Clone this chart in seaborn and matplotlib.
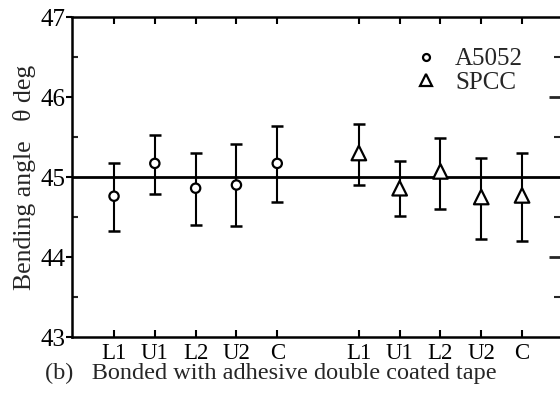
import matplotlib
matplotlib.use("Agg")
import matplotlib.pyplot as plt
import seaborn as sns
import pandas as pd
import numpy as np
from matplotlib.ticker import MultipleLocator, FixedLocator
from matplotlib.lines import Line2D

sns.set_theme(style="white")
plt.rcParams['font.family'] = ['Liberation Serif', 'DejaVu Serif']

positions = ['L1', 'U1', 'L2', 'U2', 'C']
a5052_mean = [44.76, 45.17, 44.86, 44.90, 45.17]
a5052_upper = [45.17, 45.53, 45.30, 45.41, 45.64]
a5052_lower = [44.33, 44.79, 44.40, 44.39, 44.69]
spcc_mean = [45.30, 44.86, 45.07, 44.75, 44.77]
spcc_upper = [45.66, 45.20, 45.49, 45.24, 45.30]
spcc_lower = [44.90, 44.51, 44.60, 44.22, 44.20]
a5052_x = [1, 2, 3, 4, 5]
spcc_x = [7, 8, 9, 10, 11]
tick_labels = positions + positions

df = pd.DataFrame({
    'x': a5052_x + spcc_x,
    'angle': a5052_mean + spcc_mean,
    'upper': a5052_upper + spcc_upper,
    'lower': a5052_lower + spcc_lower,
    'material': ['A5052'] * 5 + ['SPCC'] * 5,
})

fig = plt.figure(figsize=(5.6, 4.05), dpi=100)
ax = fig.add_axes([72 / 560, 68 / 405, 1 - 72 / 560, (337 - 17) / 405])

ax.axhline(45, color='black', lw=2.0, zorder=1)

for mat, sub in df.groupby('material'):
    yerr = np.vstack([sub['angle'] - sub['lower'], sub['upper'] - sub['angle']])
    ax.errorbar(sub['x'], sub['angle'], yerr=yerr, fmt='none', ecolor='black',
                elinewidth=1.5, capsize=4.5, capthick=1.8, zorder=2)

sns.scatterplot(data=df, x='x', y='angle', style='material',
                markers={'A5052': 'o', 'SPCC': '^'},
                color='white', edgecolor='black',
                linewidth=1.6, zorder=3, ax=ax, legend=False)
ax.collections[-1].set_sizes([45] * 5 + [110] * 5)

handles = [
    Line2D([], [], marker='o', ls='none', markersize=5, markerfacecolor='white',
           markeredgecolor='black', markeredgewidth=1.6, label='A5052'),
    Line2D([], [], marker='^', ls='none', markersize=8, markerfacecolor='white',
           markeredgecolor='black', markeredgewidth=1.6, label='SPCC'),
]
ax.legend(handles=handles, loc='upper left', bbox_to_anchor=(0.675, 0.935),
          frameon=False, fontsize=18, handletextpad=0.55, labelspacing=0.05,
          borderaxespad=0, handlelength=1.2)

ax.set_xlim(-0.03, 11.93)
ax.set_ylim(43, 47)
ax.set_xticks(a5052_x + spcc_x)
ax.set_xticklabels(tick_labels, fontsize=16.5)
ax.set_yticks([43, 44, 45, 46, 47])
ax.set_yticklabels(['43', '44', '45', '46', '47'], fontsize=18)
ax.yaxis.set_minor_locator(MultipleLocator(0.5))

for s in ['left', 'bottom', 'top']:
    ax.spines[s].set_color('black')
    ax.spines[s].set_linewidth(1.8)
ax.spines['right'].set_visible(False)

ax.tick_params(axis='x', which='major', direction='in', length=5, width=1.5,
               top=True, bottom=True, colors='black', pad=4)
ax.tick_params(axis='y', which='major', direction='out', length=4, width=1.5,
               left=True, right=False, colors='black', pad=1)
ax.tick_params(axis='y', which='minor', direction='in', length=4, width=1.5,
               left=True, right=False)
ax.tick_params(axis='x', which='minor', bottom=False, top=False)

sec = ax.secondary_yaxis('right')
sec.spines['right'].set_visible(False)
sec.set_yticks([44, 46])
sec.set_yticklabels([])
sec.yaxis.set_minor_locator(FixedLocator([43.5, 44.5, 45.5, 46.5]))
sec.tick_params(which='major', direction='in', length=8, width=2.0)
sec.tick_params(which='minor', direction='in', length=4, width=1.5)

ax.set_xlabel('')
ax.set_ylabel('Bending angle   θ deg', fontsize=18.5, labelpad=3)
ax.grid(False)

fig.text(45 / 560, 1 - 373 / 405, '(b)   Bonded with adhesive double coated tape',
         fontsize=17.5, va='center', ha='left')

fig.savefig('out.png', dpi=100)
